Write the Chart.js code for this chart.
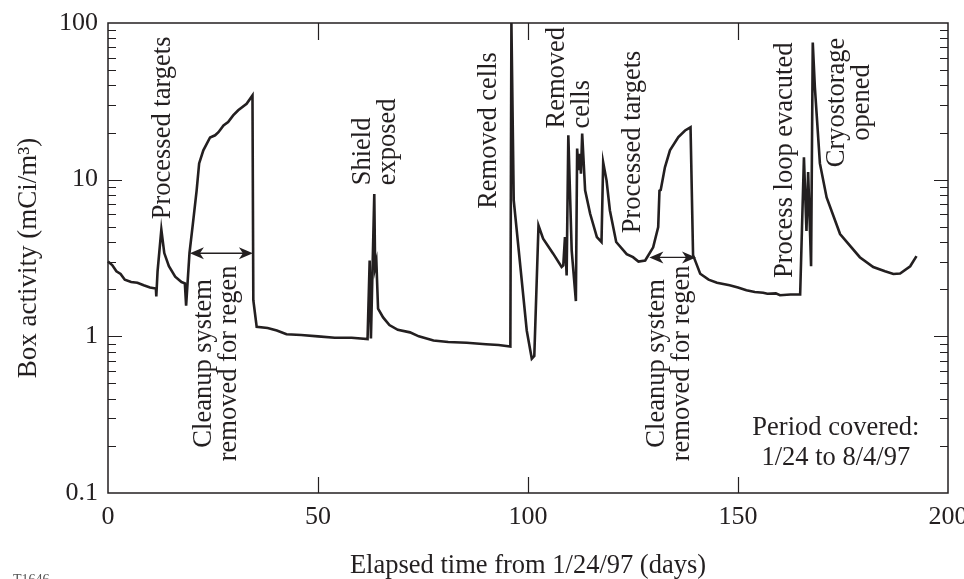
<!DOCTYPE html>
<html><head><meta charset="utf-8">
<script src="https://cdn.jsdelivr.net/npm/chart.js@4/dist/chart.umd.min.js"></script>
<style>html,body{margin:0;padding:0;background:#fff}#wrap{width:964px;height:579px;position:relative}</style>
</head><body><div id="wrap"><canvas id="c"></canvas></div>
<script>
// Elapsed time (days) and box activity (mCi/m3)
const days = [0,1,2,3,4,5.5,7,8.5,10,11.4,11.5,11.8,12.7,13.4,14.5,16.0,17.5,18.3,18.6,19.4,20.2,21.1,21.7,22.7,24.3,25.5,26.3,27.5,28.6,29.8,31.0,33.0,34.4,34.6,35.4,38,40.2,42.5,46,50,54,58,61.8,62.3,62.6,63.4,63.6,63.9,64.3,65.5,67,69,71.9,74,77.5,81,85.4,90,93,95.8,96.05,96.6,99.7,100.9,101.5,102.5,103.6,106,108,108.4,108.8,109.2,109.6,110.4,111.4,111.7,112.0,112.4,112.6,112.9,113.6,114.8,116.4,117.5,117.9,118.7,119.5,121,123.5,125,126.3,127.9,129.8,131,131.3,131.6,132.6,133.8,135.8,137.4,138.7,139.3,141,143,145,148,150,152,154,156,157,159,160,162.5,164.8,165.7,166.3,166.7,167.4,167.8,168.3,169.5,171.1,174.3,179,182.2,185,187,188.6,191,192.5];
const activity = [3.0,2.85,2.6,2.5,2.3,2.22,2.2,2.12,2.05,2.02,1.8,2.6,4.8,3.4,2.8,2.4,2.22,2.18,1.57,3.4,5.2,8.5,12.7,15.4,18.6,19.2,20.1,22.2,23.3,25.7,27.7,30.5,34.5,1.7,1.15,1.13,1.09,1.03,1.02,1.0,0.98,0.98,0.96,3.05,0.97,8.1,2.75,3.0,1.5,1.32,1.18,1.1,1.06,1.0,0.94,0.92,0.91,0.89,0.88,0.86,100,7.4,1.09,0.72,0.75,5.1,4.2,3.37,2.77,2.84,4.3,2.45,19.2,3.54,1.68,15.8,11.5,14.6,10.9,19.7,8.55,6.06,4.3,4.0,12.9,9.9,6.36,4.0,3.35,3.2,3.0,3.05,3.7,4.98,8.5,8.6,12.0,15.4,18.7,20.6,21.6,3.3,2.51,2.3,2.2,2.12,2.05,1.97,1.92,1.9,1.87,1.88,1.83,1.85,1.85,13.9,4.7,11.2,2.8,75,39,12.7,7.7,4.5,3.2,2.77,2.6,2.5,2.52,2.8,3.25];
const xTickValues = [0,50,100,150,200];
const yTickValues = [0.1,1,10,100];

// Annotations (text in data coordinates)
const notes = [
  {lines:["Processed targets"], day:13.1, val:21.4, align:"center", rot:true},
  {lines:["Cleanup system","removed for regen"], day:25.8, val:0.672, align:"center", rot:true},
  {lines:["Shield","exposed"], day:63.6, val:9.2, align:"left", rot:true},
  {lines:["Removed cells"], day:90.7, val:20.6, align:"center", rot:true},
  {lines:["Removed","cells"], day:109.8, val:21.2, align:"left", rot:true},
  {lines:["Processed targets"], day:124.9, val:17.4, align:"center", rot:true},
  {lines:["Cleanup system","removed for regen"], day:133.7, val:0.672, align:"center", rot:true},
  {lines:["Process loop evacuted"], day:161.2, val:13.3, align:"center", rot:true},
  {lines:["Cryostorage","opened"], day:176.6, val:31.1, align:"center", rot:true},
  {lines:["Period covered:","1/24 to 8/4/97"], day:173.3, val:0.209, align:"center", rot:false}
];
const arrows = [
  {from:19.5, to:34.5, val:3.39},
  {from:128.9, to:140.0, val:3.19}
];

const SERIF = '"Liberation Serif", "DejaVu Serif", serif';
const INK = '#231f20';

const framePlugin = {
  id: 'frame',
  afterDatasetsDraw(chart) {
    const {ctx, chartArea: a, scales: {x, y}} = chart;
    ctx.save();
    ctx.strokeStyle = INK;
    ctx.lineWidth = 1.5;
    ctx.strokeRect(a.left, a.top, a.right - a.left, a.bottom - a.top);
    ctx.lineWidth = 1.2;
    ctx.beginPath();
    [50,100,150].forEach(v => {
      const px = Math.round(x.getPixelForValue(v)) + 0.5;
      ctx.moveTo(px, a.bottom); ctx.lineTo(px, a.bottom - 16);
      ctx.moveTo(px, a.top); ctx.lineTo(px, a.top + 17);
    });
    [0.1,1,10].forEach(dec => {
      for (let k = 1; k <= 9; k++) {
        const v = dec * k;
        if (v <= 0.1 || v >= 100) continue;
        const py = Math.round(y.getPixelForValue(v)) + 0.5;
        const len = (k === 1) ? 14 : 8;
        ctx.moveTo(a.left, py); ctx.lineTo(a.left + len, py);
        ctx.moveTo(a.right, py); ctx.lineTo(a.right - len, py);
      }
    });
    ctx.stroke();

    ctx.fillStyle = INK;
    ctx.lineWidth = 1.3;
    arrows.forEach(ar => {
      const x1 = x.getPixelForValue(ar.from), x2 = x.getPixelForValue(ar.to);
      const py = y.getPixelForValue(ar.val);
      ctx.beginPath(); ctx.moveTo(x1 + 4, py); ctx.lineTo(x2 - 4, py); ctx.stroke();
      [[x1, 1],[x2, -1]].forEach(([tx, d]) => {
        ctx.beginPath();
        ctx.moveTo(tx, py);
        ctx.lineTo(tx + d*14, py - 6);
        ctx.lineTo(tx + d*10, py);
        ctx.lineTo(tx + d*14, py + 6);
        ctx.closePath(); ctx.fill();
      });
    });

    ctx.font = '26.5px ' + SERIF;
    ctx.fillStyle = INK;
    ctx.textBaseline = 'middle';
    notes.forEach(n => {
      const px = x.getPixelForValue(n.day), py = y.getPixelForValue(n.val);
      ctx.save();
      ctx.translate(px, py);
      const gap = n.rot ? 25 : 30;
      if (n.rot) ctx.rotate(-Math.PI/2);
      ctx.textAlign = n.align;
      n.lines.forEach((t, i) => {
        const off = (i - (n.lines.length - 1)/2) * gap;
        ctx.fillText(t, 0, off);
      });
      ctx.restore();
    });

    ctx.font = '14px ' + SERIF;
    ctx.fillStyle = '#555';
    ctx.textAlign = 'left';
    ctx.textBaseline = 'top';
    ctx.fillText('T1646', 13, 573);
    ctx.restore();
  }
};

new Chart(document.getElementById('c'), {
  type: 'line',
  data: {
    datasets: [{
      data: days.map((d, i) => ({x: d, y: activity[i]})),
      borderColor: INK,
      borderWidth: 2.6,
      pointRadius: 0,
      tension: 0,
      fill: false,
      clip: 4
    }]
  },
  options: {
    responsive: true,
    maintainAspectRatio: false,
    animation: false,
    devicePixelRatio: 1,
    layout: {padding: {left: 0, right: 16, top: 23, bottom: 0}},
    plugins: {legend: {display: false}, tooltip: {enabled: false}},
    scales: {
      x: {
        type: 'linear', min: 0, max: 200,
        afterBuildTicks: s => { s.ticks = xTickValues.map(v => ({value: v})); },
        afterFit: s => { s.height = 86; s.paddingLeft = 0; s.paddingRight = 0; },
        grid: {display: false, drawTicks: false},
        border: {display: false},
        ticks: {color: INK, font: {family: SERIF, size: 26}, padding: 9, maxRotation: 0, autoSkip: false},
        title: {display: true, text: 'Elapsed time from 1/24/97 (days)', color: INK,
                font: {family: SERIF, size: 26.5, lineHeight: 1}, padding: {top: 0, bottom: 0}}
      },
      y: {
        type: 'logarithmic', min: 0.1, max: 100,
        afterBuildTicks: s => { s.ticks = yTickValues.map(v => ({value: v})); },
        afterFit: s => { s.width = 108; s.paddingTop = 0; s.paddingBottom = 0; },
        grid: {display: false, drawTicks: false},
        border: {display: false},
        ticks: {color: INK, font: {family: SERIF, size: 26}, padding: 10, autoSkip: false,
                callback: v => String(v)},
        title: {display: true, text: 'Box activity (mCi/m³)', color: INK,
                font: {family: SERIF, size: 27, lineHeight: 1}, padding: {top: 15, bottom: 0}}
      }
    }
  },
  plugins: [framePlugin]
});
</script>
</body></html>
